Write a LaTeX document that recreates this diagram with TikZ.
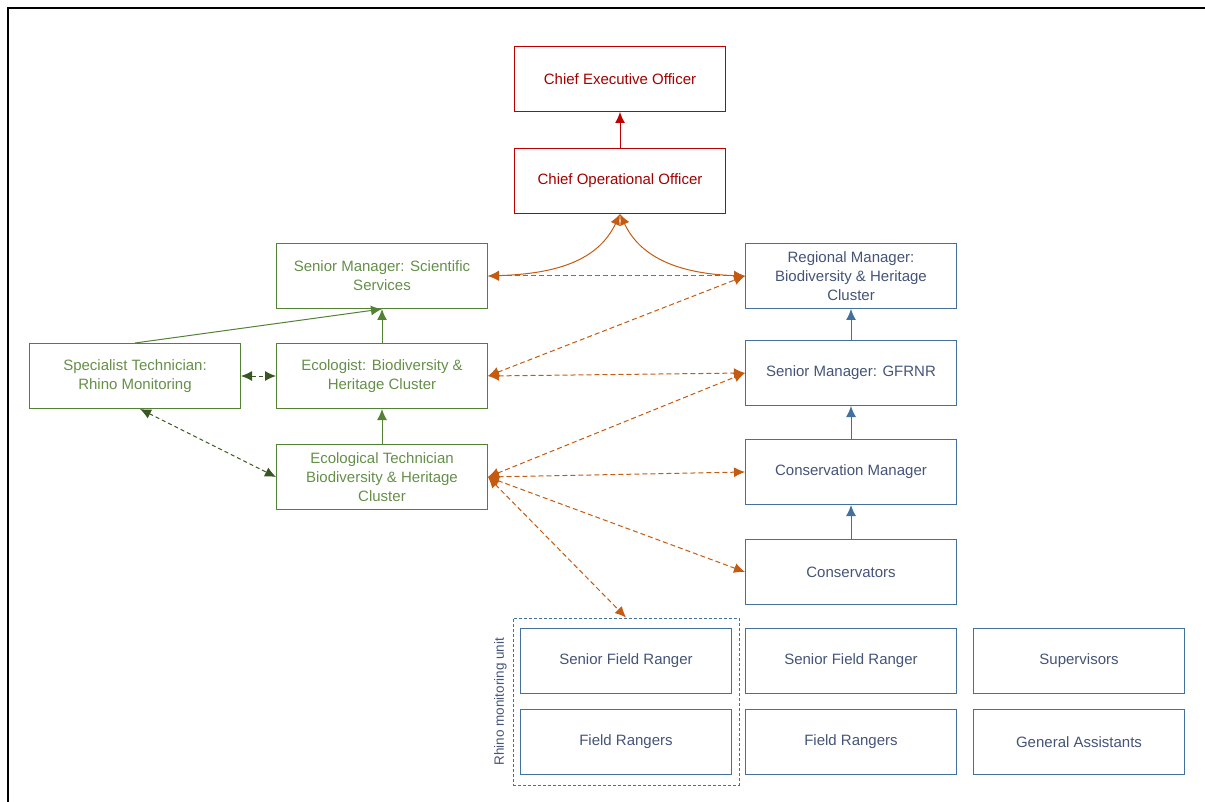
\documentclass[tikz,border=0pt]{standalone}
\usepackage{fontspec}
\setmainfont{Liberation Sans}
\usetikzlibrary{positioning, arrows.meta, fit}

\definecolor{cred}{RGB}{192,0,0}
\definecolor{cgreen}{RGB}{84,130,53}
\definecolor{cdkgreen}{RGB}{56,87,35}
\definecolor{cblue}{RGB}{65,113,156}
\definecolor{cbluetxt}{RGB}{68,84,120}
\definecolor{corange}{RGB}{197,90,17}

\begin{document}
\begin{tikzpicture}[node distance = 100pt, on grid, >={Latex[length=11pt,width=10pt]},
    font=\fontsize{15}{19}\selectfont,
    box/.style={draw, line width=1pt, minimum width=211pt, minimum height=65pt, align=center, inner sep=0pt},
    redbox/.style={box, draw=cred, text=cred!85!black},
    greenbox/.style={box, draw=cgreen, text=cgreen!90!white},
    bluebox/.style={box, draw=cblue, text=cbluetxt},
    liaise/.style={<->, corange, line width=1pt, dash pattern=on 5pt off 3pt},
    peer/.style={<->, cdkgreen, line width=1pt, dash pattern=on 4pt off 3pt}]
    \useasboundingbox (0,0) rectangle (1205pt,-802pt);
    \draw[line width=1.6pt] (1205pt,-8pt) -- (8pt,-8pt) -- (8pt,-802pt);

    \node[redbox] (ceo) at (620pt,-79pt) {Chief Executive Officer};
    \node[redbox, below=102pt of ceo] (coo) {Chief Operational Officer};
    \node[greenbox, below left=95pt and 238pt of coo] (sms) {Senior Manager:  Scientific\\Services};
    \node[bluebox, below right=95pt and 231pt of coo] (rm) {Regional Manager:\\Biodiversity \& Heritage\\Cluster};
    \node[greenbox, below=of sms] (eco) {Ecologist: Biodiversity \&\\Heritage Cluster};
    \node[greenbox, left=247pt of eco] (spec) {Specialist Technician:\\Rhino Monitoring};
    \node[greenbox, below=101pt of eco] (etech) {Ecological Technician\\Biodiversity \& Heritage\\Cluster};
    \node[bluebox, below=97pt of rm] (gfrnr) {Senior Manager:  GFRNR};
    \node[bluebox, below=99pt of gfrnr] (cm) {Conservation Manager};
    \node[bluebox, below=of cm] (cons) {Conservators};
    \node[bluebox, below=89pt of cons] (sfr2) {Senior Field Ranger};
    \node[bluebox, below=81pt of sfr2] (fr2) {Field Rangers};
    \node[bluebox, left=225pt of sfr2] (sfr1) {Senior Field Ranger};
    \node[bluebox, left=225pt of fr2] (fr1) {Field Rangers};
    \node[bluebox, right=228pt of sfr2] (sup) {Supervisors};
    \node[bluebox, right=228pt of fr2] (ga) {General Assistants};
    \node[draw=cblue, line width=1pt, dash pattern=on 3pt off 2pt, fit=(sfr1)(fr1),
          inner xsep=7pt, inner ysep=10pt] (unit) {};
    \node[rotate=90, text=cbluetxt, font=\fontsize{13.5}{15}\selectfont, anchor=center]
          (unitlbl) at ([xshift=-12pt]unit.west) {Rhino monitoring unit};

    % reporting lines
    \draw[->, cred, line width=1pt] (coo) -- (ceo);
    \draw[->, cgreen, line width=1pt] (eco) -- (sms);
    \draw[->, cgreen, line width=1pt] (etech) -- (eco);
    \draw[->, cgreen, line width=1pt] (spec.north) -- (sms.south);
    \draw[->, cblue, line width=1pt] (gfrnr) -- (rm);
    \draw[->, cblue, line width=1pt] (cm) -- (gfrnr);
    \draw[->, cblue, line width=1pt] (cons) -- (cm);

    % liaison
    \draw[<->, corange, line width=1pt] (coo.south) to[out=-115, in=2] (sms.east);
    \draw[<->, corange, line width=1pt] (coo.south) to[out=-65, in=178] (rm.west);
    \draw[liaise] (sms.east) -- (rm.west);
    \draw[liaise] (eco.east) -- (rm.west);
    \draw[liaise] (eco.east) -- (gfrnr.west);
    \draw[liaise] (etech.east) -- (gfrnr.west);
    \draw[liaise] (etech.east) -- (cm.west);
    \draw[liaise] (etech.east) -- (cons.west);
    \draw[liaise] (etech.east) -- (unit.north);
    \draw[peer] (spec) -- (eco);
    \draw[peer] ([xshift=5pt]spec.south) -- (etech.west);
\end{tikzpicture}
\end{document}
